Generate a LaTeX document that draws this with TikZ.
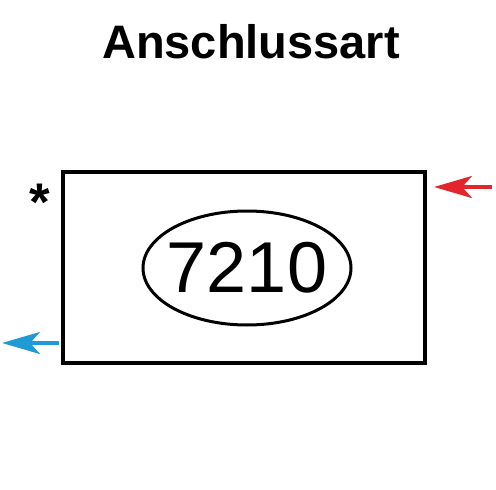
\documentclass[tikz,border=0pt]{standalone}
\usepackage{fontspec}
\setmainfont{Liberation Sans}
\usetikzlibrary{positioning,
        shapes,
        arrows.meta}
\definecolor{inred}{HTML}{E3262B}
\definecolor{outblue}{HTML}{1E9AD6}

\begin{document}
\begin{tikzpicture}[x=1pt,y=-1pt,
        flow/.style={line width=4pt,-{Stealth[length=38pt,width=22pt,inset=10pt]}}]
        \useasboundingbox[fill=white] (0,0) rectangle (496,490);
        \node [font=\fontsize{47}{50}\selectfont\bfseries,anchor=base] (title) at (251,58) {Anschlussart};
        \node [draw,line width=4pt,minimum width=362pt,minimum height=191pt,inner sep=0pt] (box) at (244,267.5) {};
        \node [ellipse,draw,line width=3pt,minimum width=208pt,minimum height=114pt,inner sep=0pt] (oval) at (247,268) {};
        \node [font=\fontsize{72}{72}\selectfont,inner sep=0pt] (nr) at (oval) {7210};
        \node [font=\fontsize{53}{53}\selectfont\bfseries,anchor=base] (star) at (40,220) {*};
        
        \coordinate (redtail) at (492,187);
        \coordinate (redtip) at (434,187);
        \coordinate (bluetail) at (59,343);
        \coordinate (bluetip) at (2,343);
        
        \draw [flow,inred] (redtail) -- (redtip);
        \draw [flow,outblue] (bluetail) -- (bluetip);
    \end{tikzpicture}
\end{document}
